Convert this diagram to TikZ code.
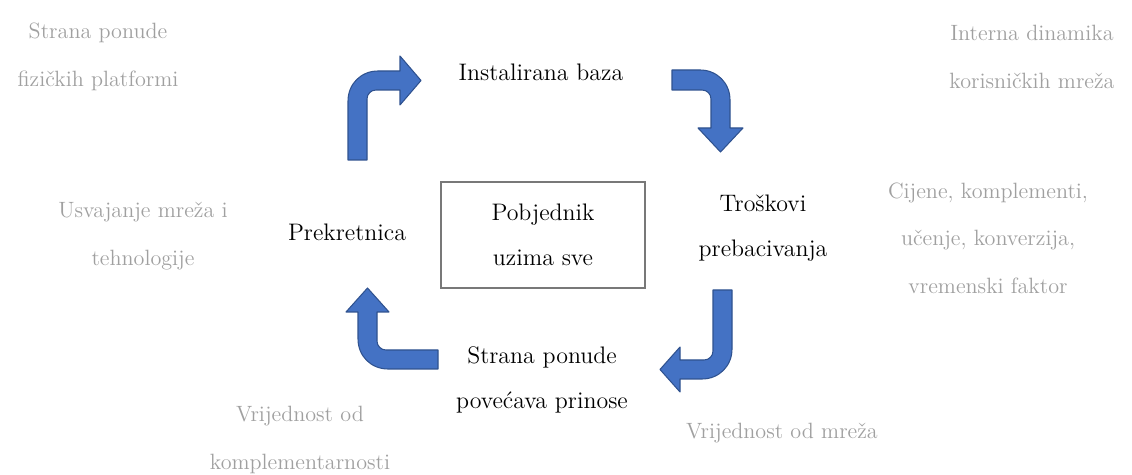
\documentclass[tikz,border=0pt]{standalone}
\usepackage{tikz}
\definecolor{arrowblue}{HTML}{4472C4}
\definecolor{arrowedge}{HTML}{2F528F}
\definecolor{notegray}{RGB}{160,160,160}
\definecolor{boxgray}{RGB}{120,120,120}

\begin{document}
\begin{tikzpicture}[x=0.02cm, y=-0.02cm,
        stage/.style={align=center, font=\fontsize{13.6}{25.5}\selectfont},
        note/.style={align=center, text=notegray, font=\fontsize{12.6}{27}\selectfont},
        blockarrow/.style={fill=arrowblue, draw=arrowedge, line width=0.6pt, line join=round}]

        \useasboundingbox (0,0) rectangle (1132,475);

        % labels of the cycle
        \node[stage] (base) at (541,72) {Instalirana baza};
        \node[stage] (switch) at (763,228) {Troškovi\\prebacivanja};
        \node[stage] (returns) at (542,380) {Strana ponude\\povećava prinose};
        \node[stage] (tip) at (347,232) {Prekretnica};
        \node[stage, draw=boxgray, line width=0.8pt, minimum width=204*0.02cm, minimum height=106*0.02cm] (winner) at (543,235) {Pobjednik\\uzima sve};

        % grey notes
        \node[note] (supply) at (98,57) {Strana ponude\\fizičkih platformi};
        \node[note] (internal) at (1032,57) {Interna dinamika\\korisničkih mreža};
        \node[note] (costs) at (988,238) {Cijene, komplementi,\\učenje, konverzija,\\vremenski faktor};
        \node[note] (adoption) at (143,236) {Usvajanje mreža i\\tehnologije};
        \node[note] (compl) at (300,440) {Vrijednost od\\komplementarnosti};
        \node[note] (netval) at (782,433) {Vrijednost od mreža};

        % bent block arrows
        \draw[blockarrow] (348,160) -- (348,101) .. controls (348,84) and (361,71) .. (378,71) -- (400,71) -- (400,56) -- (421,80.5) -- (400,105) -- (400,90) -- (376,90) .. controls (371,90) and (367,94) .. (367,99) -- (367,160) -- cycle;
        \draw[blockarrow] (672,70) -- (700,70) .. controls (717,70) and (730,83) .. (730,100) -- (730,128) -- (743,128) -- (720.5,152) -- (698,128) -- (711,128) -- (711,99) .. controls (711,94) and (707,90) .. (702,90) -- (672,90) -- cycle;
        \draw[blockarrow] (713,290) -- (732,290) -- (732,349) .. controls (732,366) and (719,379) .. (702,379) -- (680,379) -- (680,392) -- (660,369.5) -- (680,347) -- (680,360) -- (704,360) .. controls (709,360) and (713,356) .. (713,351) -- cycle;
        \draw[blockarrow] (438,350) -- (438,369) -- (388,369) .. controls (371,369) and (358,356) .. (358,339) -- (358,312) -- (346,312) -- (367.5,288) -- (389,312) -- (377,312) -- (377,341) .. controls (377,346) and (381,350) .. (386,350) -- cycle;

    \end{tikzpicture}
\end{document}
